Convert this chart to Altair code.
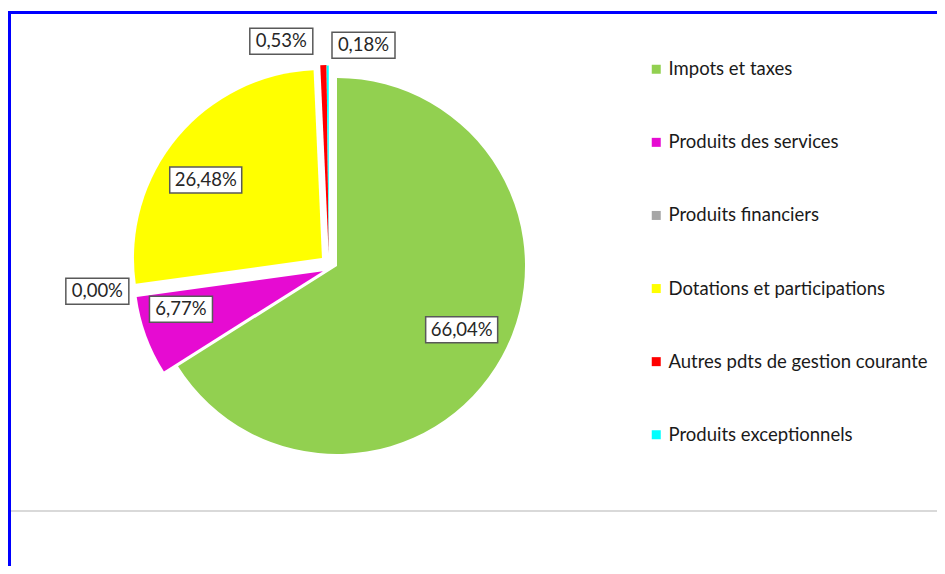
import altair as alt
import pandas as pd

categories = ["Impots et taxes", "Produits des services", "Produits financiers",
              "Dotations et participations", "Autres pdts de gestion courante",
              "Produits exceptionnels"]
values = [66.04, 6.77, 0.00, 26.48, 0.53, 0.18]
colors = ["#92D050", "#E60BD2", "#A6A6A6", "#FFFF00", "#FF0000", "#00FFFF"]

df = pd.DataFrame({"cat": categories, "val": values, "idx": list(range(len(categories)))})

W, H = 929, 558
R = 188
CX, CY = 329, 258
FONT = "Lato"

# explosion of each slice: distance (px) and direction shift from mid-angle (deg)
ex_dist = {0: 0, 1: 15, 2: 15, 3: 17, 4: 15.5, 5: 15}
ex_shift = {0: 0, 1: 0, 2: 0, 3: -12, 4: -31, 5: -33}
# label placement (Excel best-fit style): angle shift in degrees, radius in px
ang_shift = {0: -1.8, 1: 5.0, 2: 2.0, 3: -5.9, 4: -11.0, 5: 9.8}
lab_rad = {0: 140, 1: 147, 2: 226, 3: 140, 4: 217, 5: 211}


def lookup(d):
    expr = "0"
    for k, v in d.items():
        expr = f"(datum.idx == {k} ? {v} : {expr})"
    return expr


base = alt.Chart(df).transform_joinaggregate(
    total="sum(val)"
).transform_window(
    cum="sum(val)", sort=[alt.SortField("idx", order="ascending")], frame=[None, 0]
).transform_calculate(
    mid="2*PI*(datum.cum - datum.val/2)/datum.total",
    ex=lookup(ex_dist),
    exs=f"PI/180*{lookup(ex_shift)}",
    label="replace(format(datum.val/datum.total*100, '.2f'), '.', ',') + '%'",
    la=f"PI/180*{lookup(ang_shift)}",
    lr=lookup(lab_rad),
).transform_calculate(
    dx="datum.ex*sin(datum.mid + datum.exs)",
    dy="-datum.ex*cos(datum.mid + datum.exs)",
).transform_calculate(
    lx=f"{CX} + datum.dx + datum.lr*sin(datum.mid + datum.la)",
    ly=f"{CY} + datum.dy - datum.lr*cos(datum.mid + datum.la)",
    bw="length(datum.label) > 5 ? 72 : 63",
).transform_calculate(
    bx1="datum.lx - datum.bw/2",
    bx2="datum.lx + datum.bw/2",
    by1="datum.ly - 13",
    by2="datum.ly + 13",
)

arcs = base.mark_arc(
    radius=R,
    xOffset=alt.expr("datum.dx"),
    yOffset=alt.expr("datum.dy"),
).encode(
    theta=alt.Theta("val:Q", stack=True),
    order=alt.Order("idx:Q", sort="ascending"),
    color=alt.Color(
        "cat:N",
        scale=alt.Scale(domain=categories, range=colors),
        legend=alt.Legend(
            title=None, orient="none", legendX=639, legendY=52, symbolType="square",
            symbolSize=81, symbolStrokeWidth=0, labelFont=FONT, labelFontSize=18.5,
            labelColor="#1a1a1a", labelOffset=3, rowPadding=54.1, padding=0,
            labelLimit=400,
        ),
    ),
    x=alt.value(CX),
    y=alt.value(CY),
)

boxes = base.mark_rect(fill="white", stroke="#595959", strokeWidth=1.5).encode(
    x=alt.X("bx1:Q", scale=None, axis=None),
    x2="bx2:Q",
    y=alt.Y("by1:Q", scale=None, axis=None),
    y2="by2:Q",
)

texts = base.mark_text(font=FONT, fontSize=18.5, color="#262626", align="center",
                       baseline="middle").encode(
    x=alt.X("lx:Q", scale=None, axis=None),
    y=alt.Y("ly:Q", scale=None, axis=None),
    text="label:N",
)

top_border = alt.Chart(df).mark_rule(color="#0000FF", strokeWidth=3).encode(
    x=alt.value(0), x2=alt.value(W), y=alt.value(4.5))
left_border = alt.Chart(df).mark_rule(color="#0000FF", strokeWidth=3).encode(
    x=alt.value(1.5), y=alt.value(3), y2=alt.value(H))
gray_line = alt.Chart(df).mark_rule(color="#D9D9D9", strokeWidth=2).encode(
    x=alt.value(3), x2=alt.value(W), y=alt.value(503))

chart = alt.layer(top_border, left_border, gray_line, arcs, boxes, texts).properties(
    width=W, height=H, autosize=alt.AutoSizeParams(type="none"), padding=0,
    background="white",
).configure_view(stroke=None)

chart.save("out.html", embed_options={"renderer": "svg", "actions": False})
